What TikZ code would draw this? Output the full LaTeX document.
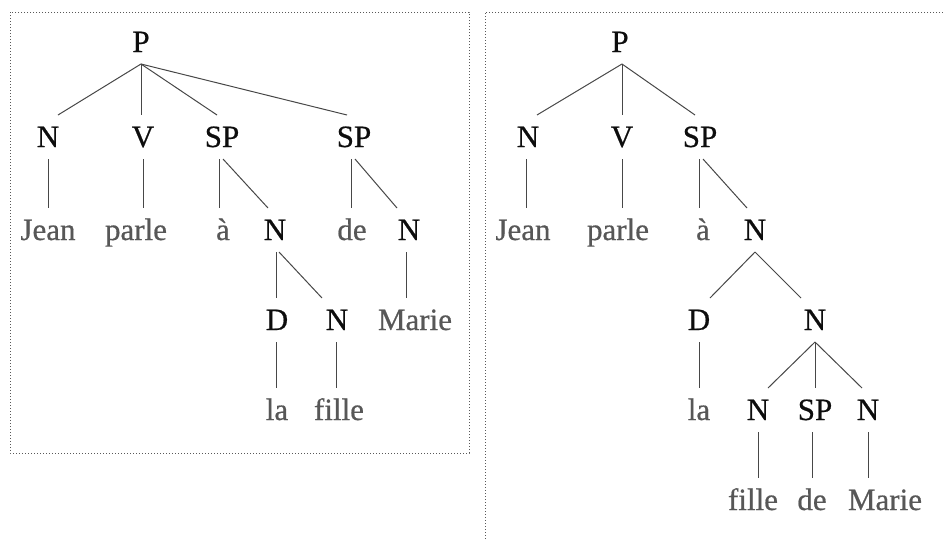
\documentclass[tikz,border=0pt]{standalone}
\usepackage{fontspec}
\setmainfont[FakeBold=0.6]{Liberation Serif}
\begin{document}
\begin{tikzpicture}[x=1pt,y=-1pt,
  tn/.style={inner sep=0pt, outer sep=0pt, text height=21pt, text depth=1pt,
    minimum height=44pt, font=\fontsize{31}{31}\selectfont},
  cat/.style={tn, text=black!95},
  word/.style={tn, text=black!66},
  br/.style={draw=black!72, line width=1pt},
  frame/.style={draw=black!65, line width=1pt, dash pattern=on 1pt off 2pt}]
\useasboundingbox (0,0) rectangle (943,539);

% frames
\draw[frame] (10,12) rectangle (469,453);
\draw[frame] (943,12) -- (485,12) -- (485,539);

% ---------- left tree ----------
\node[cat] (lP) at (141,42) {P};
\node[cat] (lN) at (48,137) {N};
\node[cat] (lV) at (143,137) {V};
\node[cat] (lSPa) at (222,137) {SP};
\node[cat] (lSPb) at (354,137) {SP};
\node[word] (lJean) at (48,230) {Jean};
\node[word] (lparle) at (136,230) {parle};
\node[word] (la) at (223,230) {à};
\node[cat] (lNa) at (275,230) {N};
\node[word] (lde) at (352,230) {de};
\node[cat] (lNb) at (409,230) {N};
\node[cat] (lD) at (277,320) {D};
\node[cat] (lNc) at (337,320) {N};
\node[word] (lMarie) at (415,320) {Marie};
\node[word] (lla) at (277,410) {la};
\node[word] (lfille) at (339,410) {fille};

\draw[br] (lP.south) -- ([xshift=10pt]lN.north);
\draw[br] (lP.south) -- (lP.south |- lV.north);
\draw[br] (lP.south) -- ([xshift=-5pt]lSPa.north);
\draw[br] (lP.south) -- ([xshift=-7pt]lSPb.north);
\draw[br] (lN.south) -- (lJean.north);
\draw[br] (lV.south) -- (lV.south |- lparle.north);
\draw[br] ([xshift=-3pt]lSPa.south) -- ([xshift=-3pt]lSPa.south |- la.north);
\draw[br] ([xshift=1pt]lSPa.south) -- ([xshift=-7pt]lNa.north);
\draw[br] ([xshift=-3pt]lSPb.south) -- ([xshift=-3pt]lSPb.south |- lde.north);
\draw[br] ([xshift=1pt]lSPb.south) -- ([xshift=-12pt]lNb.north);
\draw[br] ([xshift=1pt]lNa.south) -- ([xshift=1pt]lNa.south |- lD.north);
\draw[br] ([xshift=4pt]lNa.south) -- ([xshift=-15pt]lNc.north);
\draw[br] ([xshift=-3pt]lNb.south) -- ([xshift=-3pt]lNb.south |- lMarie.north);
\draw[br] ([xshift=-1pt]lD.south) -- ([xshift=-1pt]lD.south |- lla.north);
\draw[br] ([xshift=-1pt]lNc.south) -- ([xshift=-1pt]lNc.south |- lfille.north);

% ---------- right tree ----------
\node[cat] (rP) at (620,42) {P};
\node[cat] (rN) at (528,137) {N};
\node[cat] (rV) at (622,137) {V};
\node[cat] (rSP) at (700,137) {SP};
\node[word] (rJean) at (523,230) {Jean};
\node[word] (rparle) at (618,230) {parle};
\node[word] (ra) at (703,230) {à};
\node[cat] (rNa) at (755,230) {N};
\node[cat] (rD) at (699,320) {D};
\node[cat] (rNb) at (815,320) {N};
\node[word] (rla) at (699,410) {la};
\node[cat] (rNc) at (758,410) {N};
\node[cat] (rSPb) at (815,410) {SP};
\node[cat] (rNd) at (868,410) {N};
\node[word] (rfille) at (753,500) {fille};
\node[word] (rde) at (812,500) {de};
\node[word] (rMarie) at (885,500) {Marie};

\draw[br] ([xshift=2pt]rP.south) -- ([xshift=9pt]rN.north);
\draw[br] ([xshift=2pt]rP.south) -- ([xshift=2pt]rP.south |- rV.north);
\draw[br] ([xshift=2pt]rP.south) -- ([xshift=-5pt]rSP.north);
\draw[br] ([xshift=-2pt]rN.south) -- ([xshift=-2pt]rN.south |- rJean.north);
\draw[br] (rV.south) -- (rV.south |- rparle.north);
\draw[br] ([xshift=-1pt]rSP.south) -- ([xshift=-1pt]rSP.south |- ra.north);
\draw[br] ([xshift=3pt]rSP.south) -- ([xshift=-8pt]rNa.north);
\draw[br] (rNa.south) -- ([xshift=11pt]rD.north);
\draw[br] (rNa.south) -- ([xshift=-14pt]rNb.north);
\draw[br] (rD.south) -- (rla.north);
\draw[br] (rNb.south) -- ([xshift=10pt]rNc.north);
\draw[br] (rNb.south) -- (rSPb.north);
\draw[br] (rNb.south) -- ([xshift=-6pt]rNd.north);
\draw[br] (rNc.south) -- (rNc.south |- rfille.north);
\draw[br] ([xshift=-3pt]rSPb.south) -- ([xshift=-3pt]rSPb.south |- rde.north);
\draw[br] (rNd.south) -- (rNd.south |- rMarie.north);
\end{tikzpicture}
\end{document}
